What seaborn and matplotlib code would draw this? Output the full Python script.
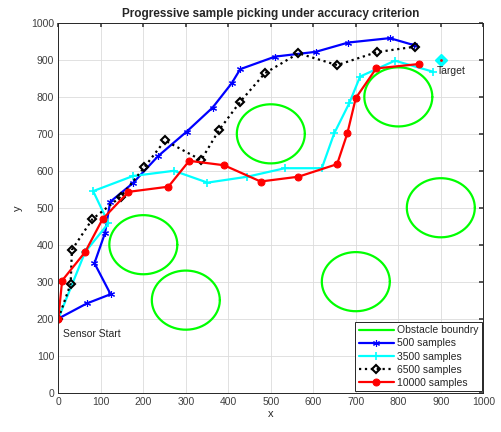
import numpy as np
import pandas as pd
import matplotlib
matplotlib.use("Agg")
import matplotlib.pyplot as plt
import seaborn as sns

# Obstacles: centres and common radius
obs_x = [200, 300, 500, 700, 800, 900]
obs_y = [400, 250, 700, 300, 800, 500]
obs_r = 80

# Paths found with different sample counts
x500 = [0, 67, 123, 85, 110, 122, 175, 235, 302, 363, 408, 428, 510, 606, 682, 780, 837]
y500 = [200, 241, 266, 350, 432, 516, 566, 640, 706, 771, 837, 875, 909, 922, 947, 959, 940]

x3500 = [0, 63, 118, 82, 176, 272, 351, 445, 533, 620, 649, 685, 710, 792, 882]
y3500 = [200, 380, 458, 545, 586, 600, 568, 584, 607, 607, 701, 784, 855, 898, 868]

x6500 = [0, 29, 32, 80, 147, 202, 251, 336, 378, 428, 486, 565, 656, 749, 840]
y6500 = [200, 294, 386, 469, 530, 609, 682, 629, 710, 787, 864, 918, 886, 921, 936]

x10000 = [0, 9, 63, 104, 165, 259, 308, 390, 476, 565, 656, 680, 700, 748, 849]
y10000 = [200, 303, 380, 469, 543, 557, 627, 615, 571, 584, 618, 701, 797, 877, 889]

start = (0, 200)
target = (900, 900)

sns.set_theme(style="whitegrid")
plt.rcParams["font.family"] = ["Liberation Sans", "DejaVu Sans"]

fig = plt.figure(figsize=(5.01, 4.32), dpi=100)
ax = fig.add_axes([0.1164, 0.0914, 0.8483, 0.8554])

# obstacle boundaries
theta = np.linspace(0, 2 * np.pi, 200)
for i, (cx, cy) in enumerate(zip(obs_x, obs_y)):
    ax.plot(cx + obs_r * np.cos(theta), cy + obs_r * np.sin(theta),
            color="#00ff00", lw=1.6, label="Obstacle boundry" if i == 0 else None)

asterisk = (6, 2, 0)
series = [
    (x500, y500, "500 samples", "#0000ff",
     dict(marker=asterisk, markersize=5, markeredgewidth=0.8, linestyle="-")),
    (x3500, y3500, "3500 samples", "#00ffff",
     dict(marker="+", markersize=6, markeredgewidth=1.2, linestyle="-")),
    (x6500, y6500, "6500 samples", "black",
     dict(marker="D", markersize=4.5, markerfacecolor="none", markeredgewidth=1.5,
          linestyle=":")),
    (x10000, y10000, "10000 samples", "#ff0000",
     dict(marker="o", markersize=5, markerfacecolor="#ff0000", linestyle="-")),
]
for xs, ys, name, col, style in series:
    df = pd.DataFrame({"x": xs, "y": ys})
    sns.lineplot(data=df, x="x", y="y", sort=False, estimator=None, ax=ax,
                 lw=1.6, label=name, color=col, markeredgecolor=col, **style)

# target marker
ax.plot([target[0]], [target[1]], marker="D", markersize=6, color="#00ffff",
        linestyle="none")
ax.plot([target[0]], [target[1]], marker=".", markersize=2, color="#ff0000",
        linestyle="none")
ax.text(target[0] - 10, target[1] - 30, "Target", fontsize=7.5, color="#262626",
        va="center", ha="left")
ax.text(start[0] + 10, start[1] - 42, "Sensor Start", fontsize=7.5, color="#262626",
        va="center", ha="left")

ax.set_xlim(0, 1000)
ax.set_ylim(0, 1000)
ax.set_xticks(np.arange(0, 1001, 100))
ax.set_yticks(np.arange(0, 1001, 100))
ax.set_xlabel("x", fontsize=8, color="#262626", labelpad=2)
ax.set_ylabel("y", fontsize=8, color="#262626", labelpad=6)
ax.set_title("Progressive sample picking under accuracy criterion",
             fontsize=8.5, fontweight="bold", pad=4)
ax.tick_params(axis="both", direction="in", length=3, labelsize=7.5,
               colors="#404040", top=True, right=True, pad=3)
ax.grid(True, color="#dcdcdc", lw=0.6)
for s in ax.spines.values():
    s.set_color("#262626")
    s.set_linewidth(0.7)

leg = ax.legend(loc="lower right", fontsize=7.5, frameon=True, fancybox=False,
                framealpha=1, edgecolor="#262626", handlelength=3.4,
                borderaxespad=0.1, labelspacing=0.3, handletextpad=0.3,
                borderpad=0.35)
leg.get_frame().set_linewidth(0.7)

fig.savefig("out.png", dpi=100)
